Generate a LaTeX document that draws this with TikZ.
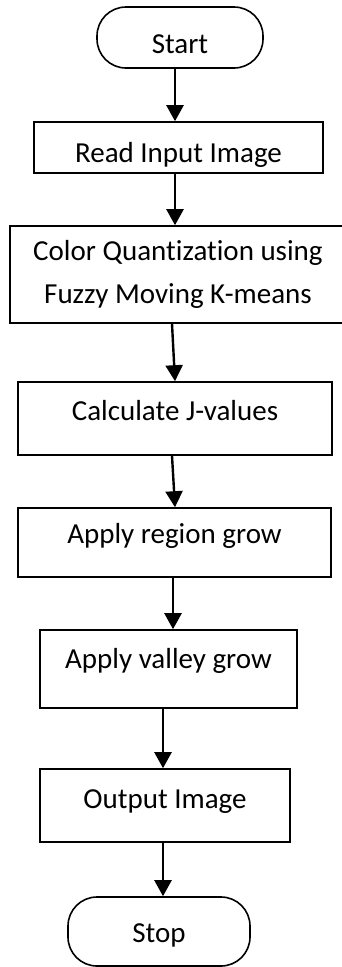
\documentclass[tikz,border=0pt]{standalone}
\usepackage{fontspec}
\setmainfont{Carlito}[Ligatures=NoCommon]
\usetikzlibrary{arrows.meta}
\tikzset{
  fcbase/.style={draw=black, fill=white, line width=1.6pt, inner sep=0pt, font=\fontsize{29pt}{43pt}\selectfont},
  fcterm/.style={fcbase, rounded corners=29pt},
  fcproc/.style={fcbase},
  fcarrow/.style={-{Triangle[length=16pt,width=17pt]}, line width=2.4pt}
}
\begin{document}
\begin{tikzpicture}[x=1pt,y=-1pt]
  \useasboundingbox (0,0) rectangle (342,967);
  \node[fcterm, minimum width=166pt, text height=46pt, text depth=15pt] (start) at (180,37.5) {Start};
  \node[fcproc, minimum width=289pt, text height=40pt, text depth=11pt] (read) at (178.5,147.5) {Read Input Image};
  \node[fcproc, minimum width=336pt, minimum height=97pt, align=center] (color) at (178,274.5) {Color Quantization using\\Fuzzy Moving K-means};
  \node[fcproc, minimum width=314pt, text height=38pt, text depth=35pt] (calc) at (175,418.5) {Calculate J-values};
  \node[fcproc, minimum width=313pt, text height=35pt, text depth=34pt] (region) at (174.5,542.5) {Apply region grow};
  \node[fcproc, minimum width=257pt, text height=38pt, text depth=40pt] (valley) at (168.5,669) {Apply valley grow};
  \node[fcproc, minimum width=250pt, text height=39pt, text depth=34pt] (output) at (165,805.5) {Output Image};
  \node[fcterm, minimum width=182pt, text height=45pt, text depth=24pt] (stop) at (159,931.5) {Stop};
  \foreach \a/\sa/\b/\sb in {start/-5/read/-3.5, read/-3.5/color/-3, color/-6/calc/0,
      calc/-3/region/0.5, region/-1.5/valley/4.5, valley/-5.5/output/-2, output/-2/stop/4} {
    \draw[fcarrow] ([xshift=\sa pt]\a.south) -- ([xshift=\sb pt]\b.north);
  }
\end{tikzpicture}
\end{document}
